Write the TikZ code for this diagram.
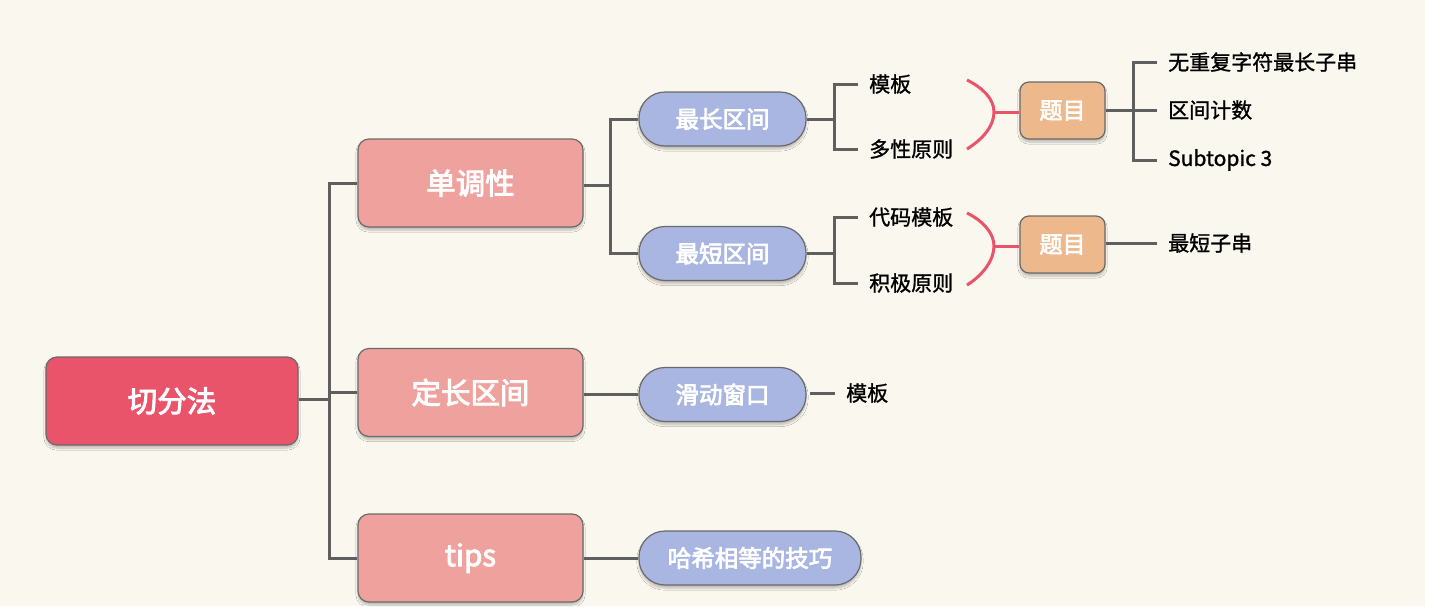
\documentclass[tikz,border=0pt]{standalone}
\usepackage{fontspec}
\setmainfont{Noto Sans CJK SC}
\newfontfamily\boxfont{Noto Sans CJK SC}[FakeBold=3]
\newfontfamily\leaffont{Noto Sans CJK SC}[FakeBold=1.2]
\usetikzlibrary{shadows.blur}
\definecolor{bgcream}{HTML}{FAF7EE}
\definecolor{rootred}{HTML}{E9546B}
\definecolor{mainpink}{HTML}{EFA29D}
\definecolor{pillblue}{HTML}{A9B6E2}
\definecolor{tagorange}{HTML}{EDB88C}
\definecolor{linegray}{HTML}{5F5F5F}
\definecolor{edgegray}{HTML}{6A6A6A}
\tikzset{
  boxshadow/.style={blur shadow={shadow blur steps=6, shadow xshift=0pt, shadow yshift=-3pt, shadow opacity=25}},
  rootbox/.style={draw=edgegray, line width=1.2pt, fill=rootred, rounded corners=11pt, boxshadow,
    minimum width=252pt, minimum height=88pt, text=white, font=\boxfont\fontsize{29.5}{31}\selectfont},
  mainbox/.style={draw=edgegray, line width=1.2pt, fill=mainpink, rounded corners=11pt, boxshadow,
    minimum width=225pt, minimum height=88pt, text=white, font=\boxfont\fontsize{29.5}{31}\selectfont},
  pill/.style={draw=edgegray, line width=1.2pt, fill=pillblue, rounded corners=26pt, boxshadow,
    minimum height=54pt, text=white, font=\boxfont\fontsize{23.5}{25}\selectfont},
  tagbox/.style={draw=edgegray, line width=1.2pt, fill=tagorange, rounded corners=9pt, boxshadow,
    minimum width=85pt, minimum height=57pt, text=white, font=\boxfont\fontsize{23}{25}\selectfont},
  leaf/.style={anchor=west, inner xsep=11pt, inner ysep=2pt, text=black, font=\leaffont\fontsize{21}{23}\selectfont},
  conn/.style={draw=linegray, line width=3pt},
  bracket/.style={draw=rootred, line width=3pt},
}
\begin{document}
\begin{tikzpicture}[x=1pt,y=-1pt]
% canvas
\useasboundingbox (0,0) rectangle (1452,606);
\fill[white] (0,0) rectangle (1452,606);
\fill[bgcream] (0,0) rectangle (1425,606);

% main nodes
\node[rootbox] (root) at (172,401) {切分法};
\node[mainbox] (mono) at (470.5,183) {单调性};
\node[mainbox] (fixed) at (470.5,392.5) {定长区间};
\node[mainbox] (tips) at (470.5,558) {tips};

\node[pill, minimum width=167pt] (longest) at (722.5,119) {最长区间};
\node[pill, minimum width=167pt] (shortest) at (722.5,253.5) {最短区间};
\node[pill, minimum width=167pt] (slide) at (722.5,394.5) {滑动窗口};
\node[pill, minimum width=222pt] (hash) at (750,558) {哈希相等的技巧};

% leaf texts
\node[leaf] (l1) at (858,84) {模板};
\node[leaf] (l2) at (858,149) {多性原则};
\node[leaf] (s1) at (858,217) {代码模板};
\node[leaf] (s2) at (858,283) {积极原则};
\node[leaf] (w1) at (835,393) {模板};

\node[tagbox] (q1) at (1062.5,110.5) {题目};
\node[tagbox] (q2) at (1062.5,244.5) {题目};

\node[leaf] (p1) at (1157,62) {无重复字符最长子串};
\node[leaf] (p2) at (1157,110) {区间计数};
\node[leaf] (p3) at (1157,160) {Subtopic 3};
\node[leaf] (p4) at (1157,243) {最短子串};

% trunk from the root
\coordinate (t0) at (329,399);
\draw[conn] (root.east |- t0) -- (t0);
\draw[conn] (t0) |- (mono.west);
\draw[conn] (t0) |- (fixed.west);
\draw[conn] (t0) |- (tips.west);

% second level
\coordinate (t1) at (610,185);
\draw[conn] (mono.east |- t1) -- (t1);
\draw[conn] (t1) |- (longest.west);
\draw[conn] (t1) |- (shortest.west);
\draw[conn] (fixed.east |- slide.west) -- (slide.west);
\draw[conn] (tips.east |- hash.west) -- (hash.west);

% third level
\coordinate (t2) at (834,119);
\draw[conn] (longest.east) -- (t2);
\draw[conn] (t2) |- (l1.west);
\draw[conn] (t2) |- (l2.west);
\coordinate (t3) at (834,253.5);
\draw[conn] (shortest.east) -- (t3);
\draw[conn] (t3) |- (s1.west);
\draw[conn] (t3) |- (s2.west);
\coordinate (w0) at (810,393);
\draw[conn] (w0) -- (w1.west);

% summary brackets
\coordinate (b1a) at (967,80);
\coordinate (b1m) at (994,112);
\coordinate (b1b) at (967,149);
\draw[bracket] (b1a) .. controls (983,88) and (994,99) .. (b1m) .. controls (994,126) and (983,139) .. (b1b);
\draw[bracket] (b1m) -- (q1.west |- b1m);
\coordinate (b2a) at (967,213);
\coordinate (b2m) at (994,246);
\coordinate (b2b) at (967,285);
\draw[bracket] (b2a) .. controls (983,221) and (994,233) .. (b2m) .. controls (994,260) and (983,275) .. (b2b);
\draw[bracket] (b2m) -- (q2.west |- b2m);

% problem lists
\coordinate (t4) at (1133,110);
\draw[conn] (q1.east |- t4) -- (t4);
\draw[conn] (t4) |- (p1.west);
\draw[conn] (t4) -- (p2.west);
\draw[conn] (t4) |- (p3.west);
\draw[conn] (q2.east |- p4.west) -- (p4.west);
\end{tikzpicture}
\end{document}
